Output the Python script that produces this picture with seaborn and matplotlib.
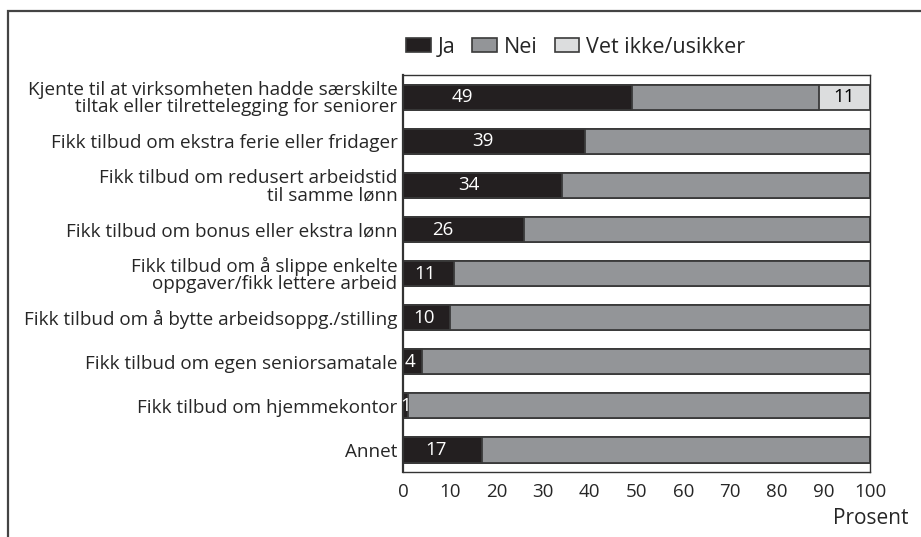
import pandas as pd
import seaborn as sns
import matplotlib.pyplot as plt
from matplotlib.patches import Rectangle, Patch

# Data
categories = [
    "Kjente til at virksomheten hadde særskilte\ntiltak eller tilrettelegging for seniorer",
    "Fikk tilbud om ekstra ferie eller fridager",
    "Fikk tilbud om redusert arbeidstid\ntil samme lønn",
    "Fikk tilbud om bonus eller ekstra lønn",
    "Fikk tilbud om å slippe enkelte\noppgaver/fikk lettere arbeid",
    "Fikk tilbud om å bytte arbeidsoppg./stilling",
    "Fikk tilbud om egen seniorsamatale",
    "Fikk tilbud om hjemmekontor",
    "Annet",
]
ja = [49, 39, 34, 26, 11, 10, 4, 1, 17]
nei = [40, 61, 66, 74, 89, 90, 96, 99, 83]
vet_ikke = [11, 0, 0, 0, 0, 0, 0, 0, 0]
ja_label_x = [12.8, 17.1, 14.1, 8.6, 4.7, 4.5, 1.5, 0.5, 7.1]

df = pd.DataFrame({"Kategori": categories, "Ja": ja, "Nei": nei, "Vet": vet_ikke})
df["JaNei"] = df["Ja"] + df["Nei"]
df["Total"] = df["JaNei"] + df["Vet"]

sns.set_theme(style="white")
plt.rcParams["font.family"] = ["Open Sans", "DejaVu Sans"]

c_ja, c_nei, c_vet = "#231f20", "#939598", "#dcddde"
edge = "#3a3a3a"

fig = plt.figure(figsize=(9.21, 5.37), dpi=100)
ax = fig.add_axes([0.4376, 0.121, 0.507, 0.739])

# stacked bars: draw cumulative totals back to front
sns.barplot(data=df, x="Total", y="Kategori", color=c_vet, edgecolor=edge,
            linewidth=1.3, width=0.57, saturation=1, ax=ax)
sns.barplot(data=df, x="JaNei", y="Kategori", color=c_nei, edgecolor=edge,
            linewidth=1.3, width=0.57, saturation=1, ax=ax)
sns.barplot(data=df, x="Ja", y="Kategori", color=c_ja, edgecolor=edge,
            linewidth=1.3, width=0.57, saturation=1, ax=ax)

for i, (v, lx) in enumerate(zip(ja, ja_label_x)):
    ax.text(lx, i, str(v), color="white", ha="center", va="center", fontsize=13.5)
for i, (v, s) in enumerate(zip(vet_ikke, df["JaNei"])):
    if v:
        ax.text(s + v / 2, i, str(v), color="black", ha="center", va="center", fontsize=13.5)

ax.set_xlim(0, 100)
ax.set_ylim(8.5, -0.5)
ax.set_xticks(range(0, 101, 10))
ax.set_xlabel("")
ax.set_ylabel("")
ax.tick_params(axis="x", direction="out", length=7, width=1, color="#333333",
               labelsize=13.5, pad=1)
ax.tick_params(axis="y", length=0, labelsize=13.6, pad=4)
for lbl in ax.get_yticklabels():
    lbl.set_multialignment("right")
    lbl.set_linespacing(0.92)
for sp in ax.spines.values():
    sp.set_visible(True)
    sp.set_color("#333333")
    sp.set_linewidth(1.0)
ax.spines["left"].set_linewidth(1.6)

ax.text(1.083, -0.09, "Prosent", transform=ax.transAxes, ha="right", va="top",
        fontsize=15)

handles = [Patch(facecolor=c, edgecolor=edge, linewidth=1.2) for c in (c_ja, c_nei, c_vet)]
fig.legend(handles, ["Ja", "Nei", "Vet ikke/usikker"], loc="center left",
           bbox_to_anchor=(0.42, 0.912), ncol=3, frameon=False, fontsize=15.5,
           handlelength=1.15, handleheight=0.65, handletextpad=0.3, columnspacing=0.8)

# outer frame (cut off at right and bottom)
fig.patches.append(Rectangle((0.009, -0.2), 1.2, 1.18, transform=fig.transFigure,
                             fill=False, edgecolor="#444444", linewidth=1.6))

fig.savefig("out.png", dpi=100)
